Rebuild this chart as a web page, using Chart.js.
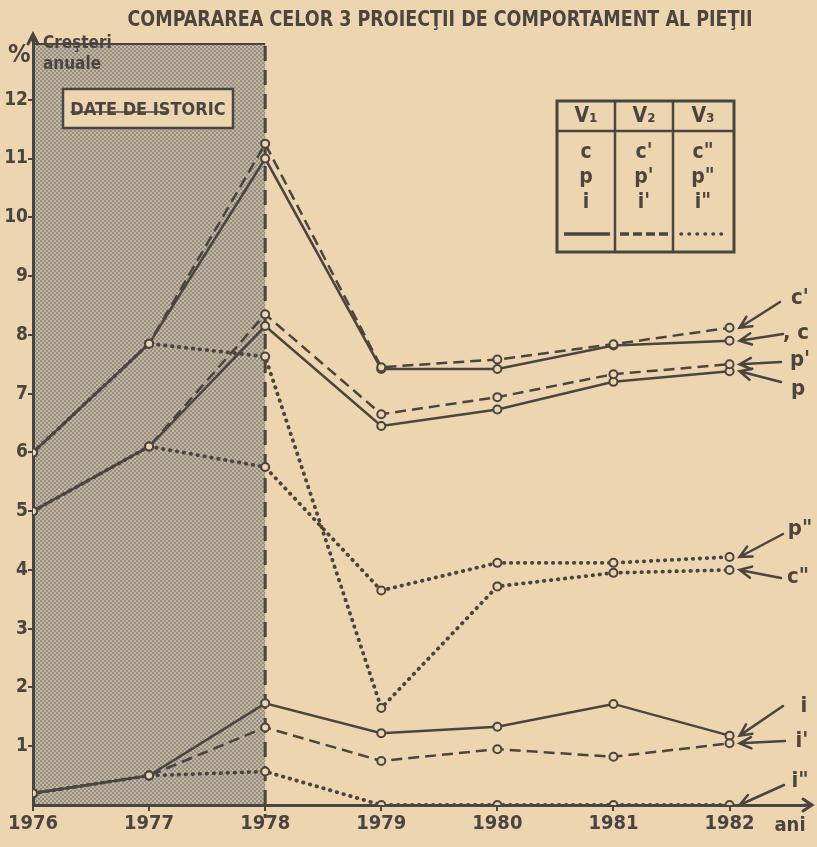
<!DOCTYPE html>
<html>
<head>
<meta charset="utf-8">
<script src="https://cdn.jsdelivr.net/npm/chart.js@4.4.0/dist/chart.umd.min.js"></script>
<style>
html, body { margin: 0; padding: 0; background: #edd5b0; }
#wrap { width: 817px; height: 847px; }
</style>
</head>
<body>
<div id="wrap"><canvas id="chart" width="817" height="847"></canvas></div>
<script>
// years on the x axis
const years = [1976, 1977, 1978, 1979, 1980, 1981, 1982];

// V1 (solid)
const cV1 = [6.0, 7.85, 11.0, 7.42, 7.42, 7.82, 7.9];
const pV1 = [5.0, 6.1, 8.15, 6.45, 6.73, 7.2, 7.38];
const iV1 = [0.2, 0.5, 1.73, 1.22, 1.33, 1.72, 1.18];
// V2 (dashed)
const cV2 = [6.0, 7.85, 11.25, 7.45, 7.58, 7.84, 8.12];
const pV2 = [5.0, 6.1, 8.35, 6.65, 6.94, 7.33, 7.5];
const iV2 = [0.2, 0.5, 1.32, 0.75, 0.95, 0.82, 1.05];
// V3 (dotted)
const cV3 = [6.0, 7.85, 7.63, 1.65, 3.72, 3.95, 4.0];
const pV3 = [5.0, 6.1, 5.75, 3.65, 4.12, 4.12, 4.22];
const iV3 = [0.2, 0.5, 0.57, 0.0, 0.0, 0.0, 0.0];

const yTickLabels = ['1', '2', '3', '4', '5', '6', '7', '8', '9', '10', '11', '12'];
const titleText = 'COMPARAREA CELOR 3 PROIECŢII DE COMPORTAMENT AL PIEŢII';

const ink = '#4a4541';
const paper = '#edd5b0';
const fam = '"DejaVu Sans Condensed", "DejaVu Sans", sans-serif';

const styles = {
    solid: { borderWidth: 2.5, borderDash: [] },
    dashed: { borderWidth: 2.5, borderDash: [11, 6] },
    dotted: { borderWidth: 3.8, borderDash: [0.5, 6.5], borderCapStyle: 'round' }
};

function series(label, values, kind) {
    return Object.assign({
        label: label,
        data: values.map((v, k) => ({ x: years[k], y: v })),
        borderColor: ink,
        pointRadius: 4,
        pointBorderWidth: 2,
        pointBackgroundColor: paper,
        pointBorderColor: ink,
        tension: 0,
        fill: false
    }, styles[kind]);
}

// shaded "historic" region pattern
function halftone() {
    const t = document.createElement('canvas');
    t.width = 4; t.height = 4;
    const g = t.getContext('2d');
    g.fillStyle = '#c4b7a2';
    g.fillRect(0, 0, 4, 4);
    g.fillStyle = '#978e82';
    g.fillRect(0, 0, 2, 2);
    g.fillRect(2, 2, 2, 2);
    return t;
}

function arrow(ctx, x1, y1, x2, y2) {
    const a = Math.atan2(y2 - y1, x2 - x1);
    ctx.beginPath();
    ctx.moveTo(x1, y1);
    ctx.lineTo(x2, y2);
    ctx.moveTo(x2 - 13 * Math.cos(a - 0.45), y2 - 13 * Math.sin(a - 0.45));
    ctx.lineTo(x2, y2);
    ctx.lineTo(x2 - 13 * Math.cos(a + 0.45), y2 - 13 * Math.sin(a + 0.45));
    ctx.stroke();
}

const decor = {
    id: 'decor',
    beforeDraw(chart) {
        const ctx = chart.ctx;
        const xs = chart.scales.x;
        const ys = chart.scales.y;
        ctx.save();
        ctx.fillStyle = paper;
        ctx.fillRect(0, 0, chart.width, chart.height);
        // historic data shading
        const x0 = xs.getPixelForValue(1976);
        const x1 = xs.getPixelForValue(1978);
        ctx.fillStyle = ctx.createPattern(halftone(), 'repeat');
        ctx.fillRect(x0, 44, x1 - x0, ys.getPixelForValue(0) - 44);
        ctx.strokeStyle = ink;
        ctx.lineWidth = 2;
        ctx.beginPath();
        ctx.moveTo(x0, 44);
        ctx.lineTo(x1, 44);
        ctx.stroke();
        ctx.restore();
    },
    beforeDatasetsDraw(chart) {
        const ctx = chart.ctx;
        const x = chart.scales.x.getPixelForValue(1978);
        ctx.save();
        ctx.strokeStyle = ink;
        ctx.lineWidth = 3;
        ctx.setLineDash([15, 9]);
        ctx.beginPath();
        ctx.moveTo(x, 46);
        ctx.lineTo(x, 818);
        ctx.stroke();
        ctx.restore();
    },
    afterDraw(chart) {
        const ctx = chart.ctx;
        const xs = chart.scales.x;
        const ys = chart.scales.y;
        const area = chart.chartArea;
        ctx.save();
        ctx.strokeStyle = ink;
        ctx.fillStyle = ink;
        ctx.lineCap = 'round';

        // axis arrows
        ctx.lineWidth = 3;
        ctx.beginPath();
        ctx.moveTo(area.left, area.top);
        ctx.lineTo(area.left, 34);
        ctx.moveTo(area.left - 5, 44);
        ctx.lineTo(area.left, 34);
        ctx.lineTo(area.left + 5, 44);
        ctx.moveTo(area.right, area.bottom);
        ctx.lineTo(812, area.bottom);
        ctx.moveTo(803, area.bottom - 6);
        ctx.lineTo(812, area.bottom);
        ctx.lineTo(803, area.bottom + 6);
        ctx.stroke();

        // title
        ctx.textAlign = 'center';
        ctx.textBaseline = 'middle';
        ctx.font = 'bold 21px ' + fam;
        ctx.fillText(titleText, 440, 21, 625);

        // y axis caption
        ctx.textAlign = 'left';
        ctx.font = 'bold 25px ' + fam;
        ctx.fillText('%', 8, 55);
        ctx.font = 'bold 17px ' + fam;
        ctx.fillText('Creşteri', 43, 44);
        ctx.fillText('anuale', 43, 65);

        // "DATE DE ISTORIC" box
        ctx.fillStyle = paper;
        ctx.fillRect(63, 89, 170, 39);
        ctx.fillStyle = ink;
        ctx.lineWidth = 2.5;
        ctx.strokeRect(63, 89, 170, 39);
        ctx.textAlign = 'center';
        ctx.font = 'bold 18px ' + fam;
        ctx.fillText('DATE DE ISTORIC', 148, 110, 156);
        ctx.lineWidth = 1.5;
        ctx.beginPath();
        ctx.moveTo(71, 112);
        ctx.lineTo(168, 112);
        ctx.stroke();

        // legend table
        ctx.fillStyle = paper;
        ctx.fillRect(557, 101, 177, 151);
        ctx.fillStyle = ink;
        ctx.lineWidth = 3;
        ctx.lineCap = 'butt';
        ctx.strokeRect(557, 101, 177, 151);
        ctx.lineWidth = 2.5;
        ctx.beginPath();
        ctx.moveTo(557, 131); ctx.lineTo(734, 131);
        ctx.moveTo(615, 101); ctx.lineTo(615, 252);
        ctx.moveTo(673, 101); ctx.lineTo(673, 252);
        ctx.stroke();
        const cols = [586, 644, 703];
        const heads = ['V₁', 'V₂', 'V₃'];
        const rows = [['c', "c'", 'c"'], ['p', "p'", 'p"'], ['i', "i'", 'i"']];
        ctx.font = 'bold 21px ' + fam;
        cols.forEach((cx, k) => {
            ctx.fillText(heads[k], cx, 117);
            rows.forEach((r, j) => ctx.fillText(r[k], cx, 153 + j * 25));
        });
        ctx.lineWidth = 3.5;
        ctx.beginPath(); ctx.moveTo(564, 234); ctx.lineTo(610, 234); ctx.stroke();
        ctx.setLineDash([9, 4]);
        ctx.beginPath(); ctx.moveTo(620, 234); ctx.lineTo(668, 234); ctx.stroke();
        ctx.lineCap = 'round';
        ctx.setLineDash([0.5, 7.5]);
        ctx.beginPath(); ctx.moveTo(681, 234); ctx.lineTo(728, 234); ctx.stroke();
        ctx.setLineDash([]);

        // end labels with arrows pointing at the 1982 values
        const xe = xs.getPixelForValue(1982);
        const tags = [
            ["c'", cV2, 800, 298, 780, 302],
            [', c', cV1, 796, 333, 783, 334],
            ["p'", pV2, 800, 360, 781, 362],
            ['p', pV1, 798, 389, 781, 382],
            ['p"', pV3, 800, 529, 783, 534],
            ['c"', cV3, 798, 577, 781, 578],
            ['i', iV1, 804, 706, 783, 706],
            ["i'", iV2, 802, 741, 785, 741],
            ['i"', iV3, 800, 781, 784, 785]
        ];
        ctx.lineWidth = 2.5;
        ctx.font = 'bold 22px ' + fam;
        tags.forEach(t => {
            ctx.fillText(t[0], t[2], t[3]);
            const yv = ys.getPixelForValue(t[1][t[1].length - 1]);
            arrow(ctx, t[4], t[5], xe + 10, yv);
        });

        ctx.font = 'bold 20px ' + fam;
        ctx.fillText('ani', 790, 826);
        ctx.restore();
    }
};

const tickFont = { family: fam, size: 20, weight: 'bold' };

new Chart(document.getElementById('chart'), {
    type: 'line',
    data: {
        datasets: [
            series('c"', cV3, 'dotted'),
            series('p"', pV3, 'dotted'),
            series('i"', iV3, 'dotted'),
            series("c'", cV2, 'dashed'),
            series("p'", pV2, 'dashed'),
            series("i'", iV2, 'dashed'),
            series('c', cV1, 'solid'),
            series('p', pV1, 'solid'),
            series('i', iV1, 'solid')
        ]
    },
    options: {
        responsive: false,
        animation: false,
        layout: { padding: { top: 41, right: 12, left: 0, bottom: 0 } },
        plugins: {
            legend: { display: false },
            tooltip: { enabled: false },
            title: { display: false }
        },
        scales: {
            x: {
                type: 'linear',
                min: 1976,
                max: 1982.65,
                afterFit: s => { s.height = 42; },
                border: { display: true, color: ink, width: 3 },
                grid: { drawOnChartArea: false, drawTicks: true, tickLength: 6, color: ink, lineWidth: 2 },
                ticks: {
                    stepSize: 1,
                    includeBounds: false,
                    autoSkip: false,
                    maxRotation: 0,
                    padding: 1,
                    color: ink,
                    font: tickFont,
                    callback: v => (Number.isInteger(v) && v <= 1982) ? String(v) : ''
                }
            },
            y: {
                min: 0,
                max: 13,
                afterFit: s => { s.width = 33; },
                border: { display: true, color: ink, width: 3 },
                grid: {
                    drawOnChartArea: false,
                    drawTicks: true,
                    tickLength: 5,
                    lineWidth: 2,
                    color: c => (c.tick && c.tick.value >= 1 && c.tick.value <= 12) ? ink : 'rgba(0,0,0,0)'
                },
                ticks: {
                    stepSize: 1,
                    padding: 0,
                    color: ink,
                    font: { family: fam, size: 19, weight: 'bold' },
                    callback: v => yTickLabels[v - 1] || ''
                }
            }
        }
    },
    plugins: [decor]
});
</script>
</body>
</html>
